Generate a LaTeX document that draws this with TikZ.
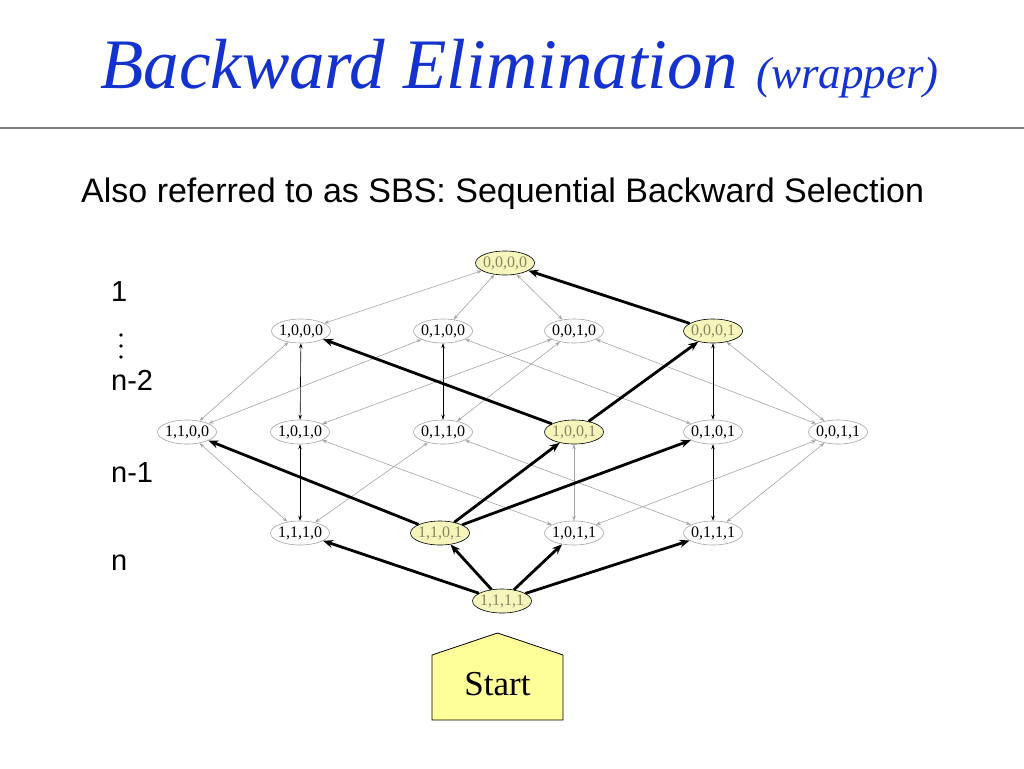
\documentclass[tikz,border=0pt]{standalone}
\usepackage{fontspec}
\setmainfont{Liberation Serif}
\newfontfamily\arialfont{Liberation Sans}
\usetikzlibrary{shapes.geometric,arrows.meta}
\definecolor{titleblue}{RGB}{20,50,205}
\definecolor{nodeyellow}{RGB}{245,245,188}
\definecolor{startyellow}{RGB}{255,255,153}
\definecolor{edgegray}{RGB}{165,165,165}
\definecolor{hltext}{RGB}{135,135,95}
\definecolor{rulegray}{RGB}{128,128,128}
\begin{document}
\begin{tikzpicture}[x=1pt,y=-1pt,
  st/.style={ellipse, draw=edgegray, line width=0.6pt, minimum width=59pt, minimum height=24pt, inner xsep=-1.5pt, inner ysep=0pt, font=\fontsize{16}{16}\selectfont},
  hl/.style={st, draw=black, fill=nodeyellow, text=hltext},
  ge/.style={draw=edgegray, line width=0.6pt, {Stealth[length=5pt,width=3.5pt]}-{Stealth[length=5pt,width=3.5pt]}},
  be/.style={draw=black, line width=0.6pt, {Stealth[length=5pt,width=3.5pt]}-{Stealth[length=5pt,width=3.5pt]}},
  tk/.style={draw=black, line width=2.8pt, -{Stealth[length=10pt,width=8pt]}},
  lvl/.style={anchor=base west, font=\arialfont\fontsize{29}{29}\selectfont},
  dotc/.style={fill=black}
]
\fill[white] (0,0) rectangle (1024,768);
\useasboundingbox (0,0) rectangle (1024,768);

% title
\node[anchor=base west, inner sep=0pt, text=titleblue] (title) at (100,88)
  {\fontsize{71}{71}\selectfont\itshape Backward Elimination \fontsize{45}{45}\selectfont(wrapper)};
\draw[rulegray, line width=2pt] (0,128) -- (1024,128);

\node[anchor=base west, inner sep=0pt, font=\arialfont\fontsize{34}{34}\selectfont] (sub) at (81,202)
  {Also referred to as SBS: Sequential Backward Selection};

% level labels
\node[lvl, inner sep=0pt] (l1) at (111,301) {1};
\fill[dotc] (121,335) circle (1.8);
\fill[dotc] (121,346) circle (1.8);
\fill[dotc] (121,357) circle (1.8);
\node[lvl, inner sep=0pt] (l2) at (111,390) {n-2};
\node[lvl, inner sep=0pt] (l3) at (111,482) {n-1};
\node[lvl, inner sep=0pt] (l4) at (111,570) {n};

% lattice nodes
\node[hl] (a0000) at (505,263) {0,0,0,0};
\node[st] (a1000) at (301,331) {1,0,0,0};
\node[st] (a0100) at (443,331) {0,1,0,0};
\node[st] (a0010) at (574,331) {0,0,1,0};
\node[hl] (a0001) at (713,331) {0,0,0,1};
\node[st] (a1100) at (187,432) {1,1,0,0};
\node[st] (a1010) at (300,432) {1,0,1,0};
\node[st] (a0110) at (443,432) {0,1,1,0};
\node[hl] (a1001) at (574,432) {1,0,0,1};
\node[st] (a0101) at (713,432) {0,1,0,1};
\node[st] (a0011) at (838,432) {0,0,1,1};
\node[st] (a1110) at (300,533) {1,1,1,0};
\node[hl] (a1101) at (440,533) {1,1,0,1};
\node[st] (a1011) at (574,533) {1,0,1,1};
\node[st] (a0111) at (713,533) {0,1,1,1};
\node[hl] (a1111) at (502,601) {1,1,1,1};

% gray edges
\draw[ge] (a0000) -- (a1000);
\draw[ge] (a0000) -- (a0100);
\draw[ge] (a0000) -- (a0010);
\draw[ge] (a1000) -- (a1100);
\draw[be] (a1000) -- (a1010);
\draw[ge] (a0100) -- (a1100);
\draw[be] (a0100) -- (a0110);
\draw[ge] (a0100) -- (a0101);
\draw[ge] (a0010) -- (a1010);
\draw[ge] (a0010) -- (a0110);
\draw[ge] (a0010) -- (a0011);
\draw[be] (a0001) -- (a0101);
\draw[ge] (a0001) -- (a0011);
\draw[ge] (a1100) -- (a1110);
\draw[be] (a1010) -- (a1110);
\draw[ge] (a1010) -- (a1011);
\draw[ge] (a0110) -- (a1110);
\draw[ge] (a0110) -- (a0111);
\draw[ge] (a1001) -- (a1011);
\draw[be] (a0101) -- (a0111);
\draw[ge] (a0011) -- (a1011);
\draw[ge] (a0011) -- (a0111);

% thick path edges
\draw[tk] (a0001) -- (a0000);
\draw[tk] (a1001) -- (a1000);
\draw[tk] (a1001) -- (a0001);
\draw[tk] (a1101) -- (a1100);
\draw[tk] (a1101) -- (a1001);
\draw[tk] (a1101) -- (a0101);
\draw[tk] (a1111) -- (a1110);
\draw[tk] (a1111) -- (a1101);
\draw[tk] (a1111) -- (a1011);
\draw[tk] (a1111) -- (a0111);

% start box
\draw[black, line width=0.8pt, fill=startyellow] (432,655) -- (497.5,633) -- (563,655) -- (563,720) -- (432,720) -- cycle;
\node[anchor=base, inner sep=0pt, font=\fontsize{35}{35}\selectfont] (start) at (497.5,695) {Start};
\end{tikzpicture}
\end{document}
